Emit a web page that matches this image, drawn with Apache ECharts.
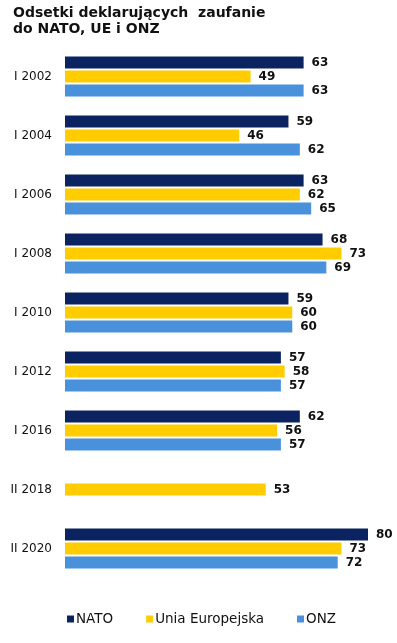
<!DOCTYPE html>
<html><head><meta charset="utf-8">
<script src="https://cdn.jsdelivr.net/npm/echarts@6/dist/echarts.min.js"></script>
<style>html,body{margin:0;padding:0;background:#fff}#c{width:397px;height:643px}</style>
</head><body><div id="c"></div>
<script>
const categories = ['I 2002','I 2004','I 2006','I 2008','I 2010','I 2012','I 2016','II 2018','II 2020'];
const nato = [63,59,63,68,59,57,62,null,80];
const ue = [49,46,62,73,60,58,56,53,73];
const onz = [63,62,65,69,60,57,57,null,72];
const seriesNames = ['NATO','Unia Europejska','ONZ'];
const colors = ['#0B2461','#FFCC00','#4A91DC'];

const chart = echarts.init(document.getElementById('c'), null, {renderer:'canvas'});
const font = 'DejaVu Sans';
function mk(name, data, color){
  return {
    name, type:'bar', data, barWidth:12, barGap:'17%',
    itemStyle:{color},
    label:{show:true, position:'right', distance:8, color:'#111', fontFamily:font, fontWeight:'bold', fontSize:12}
  };
}
chart.setOption({
  animation:false,
  title:{
    text:'Odsetki deklarujących  zaufanie\ndo NATO, UE i ONZ',
    left:13, top:5, padding:0,
    textStyle:{fontFamily:font, fontWeight:'bold', fontSize:14, lineHeight:16, color:'#111'}
  },
  grid:{left:65, right:29, top:47, bottom:65},
  xAxis:{type:'value', min:0, max:80, show:false},
  yAxis:{type:'category', data:categories, inverse:true,
    axisLine:{show:false}, axisTick:{show:false},
    axisLabel:{margin:13, color:'#111', fontFamily:font, fontSize:12}},
  legend:{
    bottom:17, left:67, padding:0, itemWidth:7, itemHeight:7, itemGap:33, icon:'rect',
    textStyle:{fontFamily:font, fontSize:13.5, color:'#111', padding:[0,0,0,-3]},
    data:seriesNames
  },
  series:[mk(seriesNames[0], nato, colors[0]), mk(seriesNames[1], ue, colors[1]), mk(seriesNames[2], onz, colors[2])]
});
</script></body></html>
